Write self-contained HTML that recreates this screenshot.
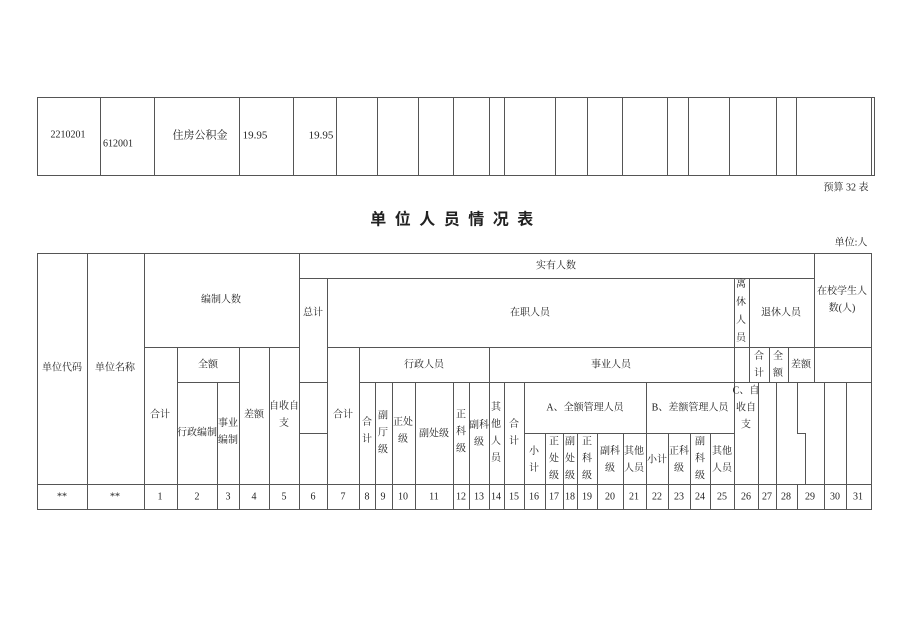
<!DOCTYPE html>
<html><head><meta charset="utf-8"><style>
body{margin:0;width:898px;height:635px;background:#fff;position:relative;overflow:hidden;font-family:"Liberation Serif","Noto Serif CJK SC",serif;color:#222}
.h{position:absolute;height:1px;background:#555}
.v{position:absolute;width:1px;background:#555}
.t{position:absolute;font-size:10px;line-height:17px;text-align:center;transform:translate(-50%,-50%);white-space:nowrap}
</style></head><body>
<!-- top table -->
<div class="h" style="left:37px;top:97px;width:837px"></div>
<div class="h" style="left:37px;top:175px;width:837px"></div>
<div class="v" style="left:37px;top:97px;height:79px"></div>
<div class="v" style="left:100px;top:97px;height:79px"></div>
<div class="v" style="left:154px;top:97px;height:79px"></div>
<div class="v" style="left:239px;top:97px;height:79px"></div>
<div class="v" style="left:293px;top:97px;height:79px"></div>
<div class="v" style="left:336px;top:97px;height:79px"></div>
<div class="v" style="left:377px;top:97px;height:79px"></div>
<div class="v" style="left:418px;top:97px;height:79px"></div>
<div class="v" style="left:453px;top:97px;height:79px"></div>
<div class="v" style="left:489px;top:97px;height:79px"></div>
<div class="v" style="left:504px;top:97px;height:79px"></div>
<div class="v" style="left:555px;top:97px;height:79px"></div>
<div class="v" style="left:587px;top:97px;height:79px"></div>
<div class="v" style="left:622px;top:97px;height:79px"></div>
<div class="v" style="left:667px;top:97px;height:79px"></div>
<div class="v" style="left:688px;top:97px;height:79px"></div>
<div class="v" style="left:729px;top:97px;height:79px"></div>
<div class="v" style="left:776px;top:97px;height:79px"></div>
<div class="v" style="left:796px;top:97px;height:79px"></div>
<div class="v" style="left:871px;top:97px;height:79px"></div>
<div class="v" style="left:874px;top:97px;height:79px"></div>
<div class="t" style="left:68px;top:135px">2210201</div>
<div class="t" style="left:118px;top:144px">612001</div>
<div class="t" style="left:200px;top:136px;font-size:11px">住房公积金</div>
<div class="t" style="left:255px;top:136px;font-size:11px">19.95</div>
<div class="t" style="left:321px;top:136px;font-size:11px">19.95</div>
<div class="t" style="left:846px;top:188px">预算 32 表</div>
<div class="t" style="left:456px;top:220px;font-size:16px;font-weight:bold;letter-spacing:8.5px;font-family:'Liberation Sans','Noto Sans CJK SC',sans-serif">单位人员情况表</div>
<div class="t" style="left:851px;top:243px">单位:人</div>
<!-- bottom table horizontals -->
<div class="h" style="left:37px;top:253px;width:835px"></div>
<div class="h" style="left:299px;top:278px;width:515px"></div>
<div class="h" style="left:144px;top:347px;width:155px"></div>
<div class="h" style="left:327px;top:347px;width:545px"></div>
<div class="h" style="left:177px;top:382px;width:62px"></div>
<div class="h" style="left:299px;top:382px;width:28px"></div>
<div class="h" style="left:359px;top:382px;width:513px"></div>
<div class="h" style="left:299px;top:433px;width:28px"></div>
<div class="h" style="left:524px;top:433px;width:210px"></div>
<div class="h" style="left:797px;top:433px;width:9px"></div>
<div class="h" style="left:37px;top:484px;width:835px"></div>
<div class="h" style="left:37px;top:509px;width:835px"></div>
<!-- verticals -->
<div class="v" style="left:37px;top:253px;height:257px"></div>
<div class="v" style="left:87px;top:253px;height:257px"></div>
<div class="v" style="left:144px;top:253px;height:257px"></div>
<div class="v" style="left:177px;top:347px;height:163px"></div>
<div class="v" style="left:217px;top:382px;height:128px"></div>
<div class="v" style="left:239px;top:347px;height:163px"></div>
<div class="v" style="left:269px;top:347px;height:163px"></div>
<div class="v" style="left:299px;top:253px;height:257px"></div>
<div class="v" style="left:327px;top:278px;height:232px"></div>
<div class="v" style="left:359px;top:347px;height:163px"></div>
<div class="v" style="left:375px;top:382px;height:128px"></div>
<div class="v" style="left:392px;top:382px;height:128px"></div>
<div class="v" style="left:415px;top:382px;height:128px"></div>
<div class="v" style="left:453px;top:382px;height:128px"></div>
<div class="v" style="left:469px;top:382px;height:128px"></div>
<div class="v" style="left:489px;top:347px;height:163px"></div>
<div class="v" style="left:504px;top:382px;height:128px"></div>
<div class="v" style="left:524px;top:382px;height:128px"></div>
<div class="v" style="left:545px;top:433px;height:77px"></div>
<div class="v" style="left:563px;top:433px;height:77px"></div>
<div class="v" style="left:577px;top:433px;height:77px"></div>
<div class="v" style="left:597px;top:433px;height:77px"></div>
<div class="v" style="left:623px;top:433px;height:77px"></div>
<div class="v" style="left:646px;top:382px;height:128px"></div>
<div class="v" style="left:668px;top:433px;height:77px"></div>
<div class="v" style="left:690px;top:433px;height:77px"></div>
<div class="v" style="left:710px;top:433px;height:77px"></div>
<div class="v" style="left:734px;top:278px;height:232px"></div>
<div class="v" style="left:749px;top:278px;height:104px"></div>
<div class="v" style="left:769px;top:347px;height:35px"></div>
<div class="v" style="left:788px;top:347px;height:35px"></div>
<div class="v" style="left:814px;top:253px;height:129px"></div>
<div class="v" style="left:758px;top:382px;height:128px"></div>
<div class="v" style="left:776px;top:382px;height:128px"></div>
<div class="v" style="left:797px;top:382px;height:51px"></div>
<div class="v" style="left:797px;top:484px;height:26px"></div>
<div class="v" style="left:805px;top:433px;height:51px"></div>
<div class="v" style="left:824px;top:382px;height:128px"></div>
<div class="v" style="left:846px;top:382px;height:128px"></div>
<div class="v" style="left:871px;top:253px;height:257px"></div>
<!-- header texts -->
<div class="t" style="left:221px;top:300px">编制人数</div>
<div class="t" style="left:556px;top:266px">实有人数</div>
<div class="t" style="left:313px;top:313px">总计</div>
<div class="t" style="left:530px;top:313px">在职人员</div>
<div class="t" style="left:741px;top:312px;line-height:18px">离<br>休<br>人<br>员</div>
<div class="t" style="left:781px;top:313px">退休人员</div>
<div class="t" style="left:842px;top:300px">在校学生人<br>数(人)</div>
<div class="t" style="left:62px;top:368px">单位代码</div>
<div class="t" style="left:115px;top:368px">单位名称</div>
<div class="t" style="left:208px;top:365px">全额</div>
<div class="t" style="left:160px;top:415px">合计</div>
<div class="t" style="left:197px;top:433px">行政编制</div>
<div class="t" style="left:228px;top:432px">事业<br>编制</div>
<div class="t" style="left:254px;top:415px">差额</div>
<div class="t" style="left:284px;top:415px">自收自<br>支</div>
<div class="t" style="left:343px;top:415px">合计</div>
<div class="t" style="left:424px;top:365px">行政人员</div>
<div class="t" style="left:611px;top:365px">事业人员</div>
<div class="t" style="left:759px;top:365px">合<br>计</div>
<div class="t" style="left:778px;top:365px">全<br>额</div>
<div class="t" style="left:801px;top:365px">差额</div>
<div class="t" style="left:367px;top:431px">合<br>计</div>
<div class="t" style="left:383px;top:433px">副<br>厅<br>级</div>
<div class="t" style="left:403px;top:431px">正处<br>级</div>
<div class="t" style="left:434px;top:434px">副处级</div>
<div class="t" style="left:461px;top:432px">正<br>科<br>级</div>
<div class="t" style="left:479px;top:434px">副科<br>级</div>
<div class="t" style="left:496px;top:433px">其<br>他<br>人<br>员</div>
<div class="t" style="left:514px;top:433px">合<br>计</div>
<div class="t" style="left:585px;top:408px">A、全额管理人员</div>
<div class="t" style="left:690px;top:408px">B、差额管理人员</div>
<div class="t" style="left:746px;top:408px">C、自<br>收自<br>支</div>
<div class="t" style="left:534px;top:460px">小<br>计</div>
<div class="t" style="left:554px;top:459px">正<br>处<br>级</div>
<div class="t" style="left:570px;top:459px">副<br>处<br>级</div>
<div class="t" style="left:587px;top:459px">正<br>科<br>级</div>
<div class="t" style="left:610px;top:460px">副科<br>级</div>
<div class="t" style="left:634px;top:460px">其他<br>人员</div>
<div class="t" style="left:657px;top:460px">小计</div>
<div class="t" style="left:679px;top:460px">正科<br>级</div>
<div class="t" style="left:700px;top:459px">副<br>科<br>级</div>
<div class="t" style="left:722px;top:460px">其他<br>人员</div>
<!-- number row -->
<div class="t" style="left:62px;top:497px">**</div>
<div class="t" style="left:115px;top:497px">**</div>
<div class="t" style="left:160px;top:497px">1</div>
<div class="t" style="left:197px;top:497px">2</div>
<div class="t" style="left:228px;top:497px">3</div>
<div class="t" style="left:254px;top:497px">4</div>
<div class="t" style="left:284px;top:497px">5</div>
<div class="t" style="left:313px;top:497px">6</div>
<div class="t" style="left:343px;top:497px">7</div>
<div class="t" style="left:367px;top:497px">8</div>
<div class="t" style="left:383px;top:497px">9</div>
<div class="t" style="left:403px;top:497px">10</div>
<div class="t" style="left:434px;top:497px">11</div>
<div class="t" style="left:461px;top:497px">12</div>
<div class="t" style="left:479px;top:497px">13</div>
<div class="t" style="left:496px;top:497px">14</div>
<div class="t" style="left:514px;top:497px">15</div>
<div class="t" style="left:534px;top:497px">16</div>
<div class="t" style="left:554px;top:497px">17</div>
<div class="t" style="left:570px;top:497px">18</div>
<div class="t" style="left:587px;top:497px">19</div>
<div class="t" style="left:610px;top:497px">20</div>
<div class="t" style="left:634px;top:497px">21</div>
<div class="t" style="left:657px;top:497px">22</div>
<div class="t" style="left:679px;top:497px">23</div>
<div class="t" style="left:700px;top:497px">24</div>
<div class="t" style="left:722px;top:497px">25</div>
<div class="t" style="left:746px;top:497px">26</div>
<div class="t" style="left:767px;top:497px">27</div>
<div class="t" style="left:786px;top:497px">28</div>
<div class="t" style="left:810px;top:497px">29</div>
<div class="t" style="left:835px;top:497px">30</div>
<div class="t" style="left:858px;top:497px">31</div>
</body></html>
